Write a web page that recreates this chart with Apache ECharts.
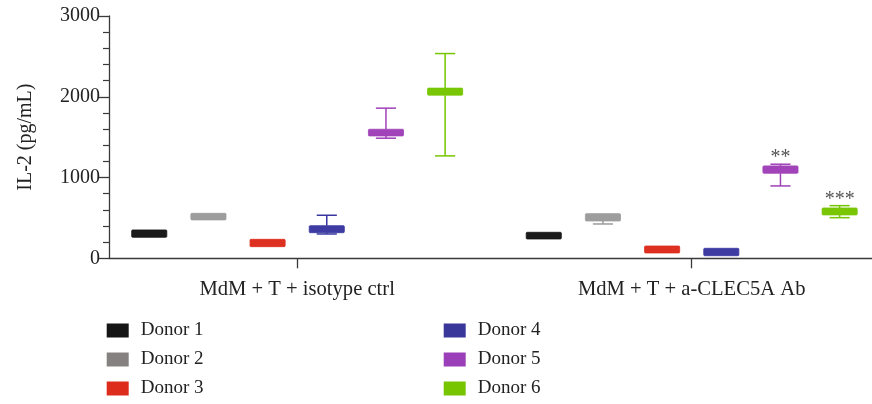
<!DOCTYPE html>
<html>
<head>
<meta charset="utf-8">
<script src="https://cdn.jsdelivr.net/npm/echarts@6/dist/echarts.min.js"></script>
<style>
html,body{margin:0;padding:0;background:#fff;}
#chart{width:872px;height:404px;}
</style>
</head>
<body>
<div id="chart"></div>
<script>
// ---- data ----
const categories = ['MdM + T + isotype ctrl', 'MdM + T + a-CLEC5A Ab'];
const donorNames = ['Donor 1', 'Donor 2', 'Donor 3', 'Donor 4', 'Donor 5', 'Donor 6'];
// each entry: [whisker min, box low, box high, whisker max] for each category
const donor1 = [[260, 260, 351, 351], [239, 239, 322, 322]];
const donor2 = [[475, 475, 557, 557], [425, 462, 553, 553]];
const donor3 = [[144, 144, 235, 235], [66, 66, 152, 152]];
const donor4 = [[301, 317, 404, 533], [32, 32, 124, 124]];
const donor5 = [[1487, 1515, 1598, 1859], [896, 1053, 1144, 1165]];
const donor6 = [[1268, 2020, 2107, 2535], [503, 537, 623, 652]];
const significance = [['', '', '', '', '', ''], ['', '', '', '', '**', '***']];
const yTicks = [0, 1000, 2000, 3000];

// ---- styles / layout ----
const boxColors = ['#151515', '#9b9b9b', '#dd2c1c', '#3a38a0', '#a040b8', '#76c500'];
const legendColors = ['#151515', '#858180', '#dd2c1c', '#3a379b', '#9b3fb8', '#76c500'];
const DONOR_STEP = 0.15;   // in x data units
const BOX_W = 0.089;
const CAP_W = 0.051;
const FONT = '"Liberation Serif", "DejaVu Serif", serif';
const TEXT = '#222';

const allDonors = [donor1, donor2, donor3, donor4, donor5, donor6];

function renderItem(params, api) {
  const d = params.seriesIndex;
  const gx = api.value(0);
  const lo = api.value(1), q1 = api.value(2), q3 = api.value(3), hi = api.value(4);
  const cx = api.coord([gx + (d - 2.5) * DONOR_STEP, 0])[0];
  const bw = api.size([BOX_W, 0])[0];
  const cw = api.size([CAP_W, 0])[0];
  const yLo = api.coord([gx, lo])[1];
  const yQ1 = api.coord([gx, q1])[1];
  const yQ3 = api.coord([gx, q3])[1];
  const yHi = api.coord([gx, hi])[1];
  const color = api.visual('color');
  const children = [];
  const lineStyle = { stroke: color, lineWidth: 1.5 };
  if (hi > q3) {
    children.push({ type: 'line', shape: { x1: cx, y1: yQ3, x2: cx, y2: yHi }, style: lineStyle });
    children.push({ type: 'line', shape: { x1: cx - cw / 2, y1: yHi, x2: cx + cw / 2, y2: yHi }, style: lineStyle });
  }
  if (lo < q1) {
    children.push({ type: 'line', shape: { x1: cx, y1: yQ1, x2: cx, y2: yLo }, style: lineStyle });
    children.push({ type: 'line', shape: { x1: cx - cw / 2, y1: yLo, x2: cx + cw / 2, y2: yLo }, style: lineStyle });
  }
  children.push({
    type: 'rect',
    shape: { x: cx - bw / 2, y: yQ3, width: bw, height: yQ1 - yQ3, r: 1 },
    style: { fill: color, stroke: color, lineWidth: 0.8, opacity: 0.98 }
  });
  const sig = significance[params.dataIndex][d];
  if (sig) {
    children.push({
      type: 'text',
      style: {
        x: cx, y: yHi + 4, text: sig, align: 'center', verticalAlign: 'bottom',
        fill: '#555', font: '20px ' + FONT
      }
    });
  }
  return { type: 'group', children: children };
}

const series = donorNames.map((name, d) => ({
  name: name,
  type: 'custom',
  renderItem: renderItem,
  itemStyle: { color: boxColors[d] },
  encode: { x: 0, y: [1, 2, 3, 4] },
  data: categories.map((c, i) => [i + 1].concat(allDonors[d][i]))
}));

function legendBlock(names, left) {
  return {
    orient: 'vertical',
    left: left,
    top: 321,
    padding: 0,
    itemGap: 10,
    itemWidth: 22,
    itemHeight: 14,
    icon: 'rect',
    data: names.map(n => ({ name: n, itemStyle: { color: legendColors[donorNames.indexOf(n)] } })),
    textStyle: { fontFamily: FONT, fontSize: 19, color: TEXT, padding: [0, 0, 0, 7] }
  };
}

const chart = echarts.init(document.getElementById('chart'));
chart.setOption({
  animation: false,
  color: boxColors,
  grid: { left: 109, right: 0, top: 16, bottom: 145.7 },
  legend: [
    legendBlock(donorNames.slice(0, 3), 106.7),
    legendBlock(donorNames.slice(3, 6), 443.7)
  ],
  xAxis: {
    type: 'value',
    min: 0.523,
    max: 2.457,
    splitLine: { show: false },
    axisLine: { show: true, onZero: false, lineStyle: { color: '#3a3a3a', width: 1.3 } },
    axisTick: { show: true, customValues: [1, 2], length: 10, lineStyle: { color: '#3a3a3a', width: 1.3 } },
    axisLabel: {
      customValues: [1, 2],
      formatter: v => categories[Math.round(v) - 1] || '',
      fontFamily: FONT, fontSize: 20.6, color: TEXT, margin: 21
    }
  },
  yAxis: {
    type: 'value',
    min: 0,
    max: 3000,
    interval: 1000,
    name: 'IL-2 (pg/mL)',
    nameLocation: 'middle',
    nameGap: 73,
    nameTextStyle: { fontFamily: FONT, fontSize: 20, color: TEXT },
    splitLine: { show: false },
    axisLine: { show: true, lineStyle: { color: '#3a3a3a', width: 1.3 } },
    axisTick: { show: true, length: 10, lineStyle: { color: '#3a3a3a', width: 1.3 } },
    minorTick: { show: true, splitNumber: 5, length: 6, lineStyle: { color: '#3a3a3a', width: 1.2 } },
    axisLabel: {
      customValues: yTicks,
      formatter: v => String(v),
      fontFamily: FONT, fontSize: 20, color: TEXT, margin: 9
    }
  },
  series: series
});
</script>
</body>
</html>
